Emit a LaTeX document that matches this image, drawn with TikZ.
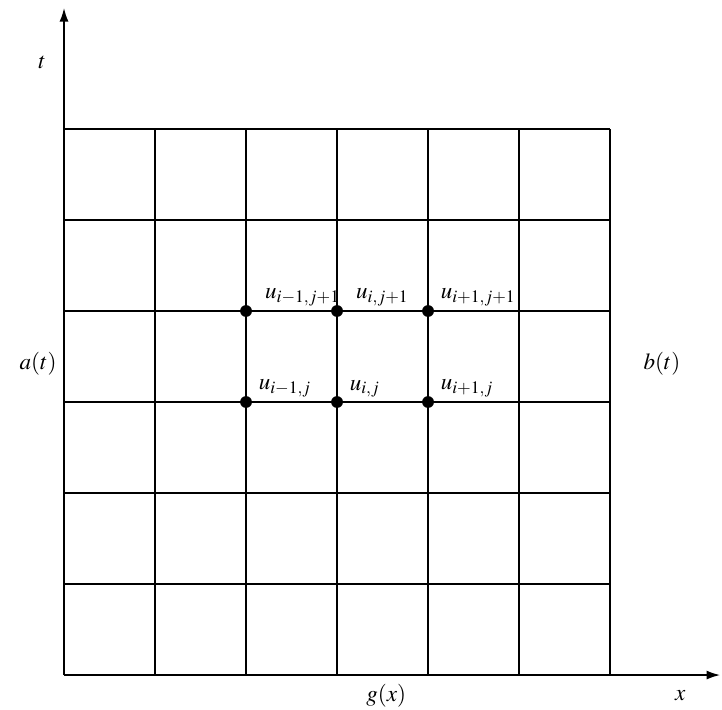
\documentclass[tikz,border=0pt]{standalone}
\usepackage{mathptmx}
\usetikzlibrary{arrows.meta,positioning}

\begin{document}
\begin{tikzpicture}[
  gridline/.style={line width=1.1pt},
  axis/.style={-{Latex[length=3mm,width=2mm]},line width=1.1pt},
  meshpt/.style={circle,fill=black,inner sep=0pt,minimum size=2.6mm},
  ulabel/.style={font=\Large,inner sep=1pt},
  bclabel/.style={font=\Large}
]
\useasboundingbox (-1.407,-0.747) rectangle (14.46,14.835);
% axes
\coordinate (o) at (0,0);
\coordinate (xend) at (14.42,0);
\coordinate (tend) at (0,14.66);
\draw[gridline] (0,0) grid[step=2] (12,12);
\draw[axis] (o)--(xend);
\draw[axis] (o)--(tend);
\node[bclabel] (tlab) at (-0.48,13.47) {$t$};
\node[bclabel] (xlab) at (13.54,-0.46) {$x$};
\node[bclabel] (alab) at (-0.57,6.84) {$a(t)$};
\node[bclabel] (blab) at (13.14,6.84) {$b(t)$};
\node[bclabel] (glab) at (7.08,-0.46) {$g(x)$};
% stencil points
\node[meshpt] (p1) at (4,6) {};
\node[meshpt] (p2) at (6,6) {};
\node[meshpt] (p3) at (8,6) {};
\node[meshpt] (q1) at (4,8) {};
\node[meshpt] (q2) at (6,8) {};
\node[meshpt] (q3) at (8,8) {};
\node[ulabel,above right=-1pt and 4pt of p1] (lp1) {$u_{i-1,j}$};
\node[ulabel,above right=-1pt and 4pt of p2] (lp2) {$u_{i,j}$};
\node[ulabel,above right=-1pt and 4pt of p3] (lp3) {$u_{i+1,j}$};
\node[ulabel,above right=-1pt and 8pt of q1] (lq1) {$u_{i-1,j+1}$};
\node[ulabel,above right=-1pt and 8pt of q2] (lq2) {$u_{i,j+1}$};
\node[ulabel,above right=-1pt and 4pt of q3] (lq3) {$u_{i+1,j+1}$};
\end{tikzpicture}
\end{document}
